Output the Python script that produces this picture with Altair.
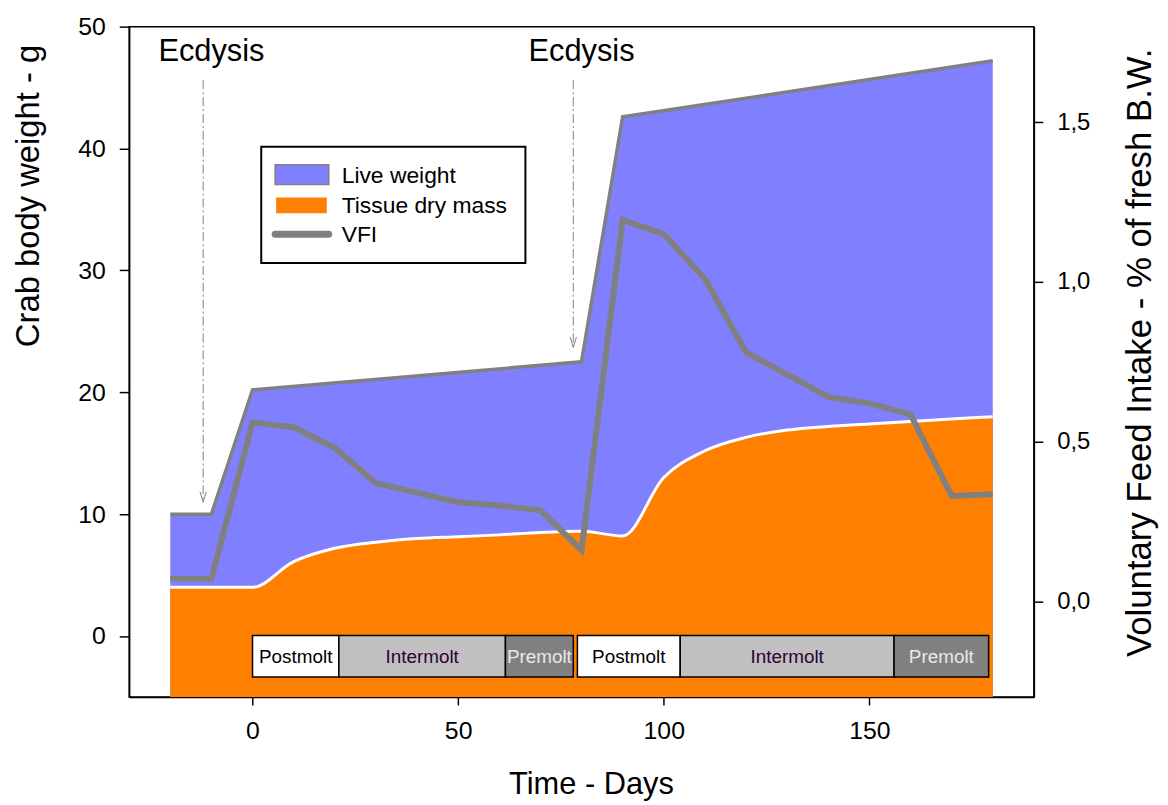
import altair as alt
import pandas as pd

FONT = "Liberation Sans, Arial, sans-serif"

# ---------------- data ----------------
# Live weight (g)
lw_day = [-20, -10, 0, 80, 90, 180]
lw_val = [10.0, 10.0, 20.2, 22.5, 42.6, 47.2]

# Tissue dry mass (g)
tdm_day = [-20, -10, 0, 10, 20, 30, 40, 50, 60, 70, 80, 90, 100, 110, 120, 130, 140, 150, 160, 170, 180]
tdm_val = [4.0, 4.0, 4.0, 6.1, 7.2, 7.7, 8.0, 8.15, 8.3, 8.5, 8.6, 8.2, 13.0, 15.2, 16.3, 16.9, 17.2, 17.4, 17.6, 17.8, 18.0]

# Voluntary feed intake (% of fresh body weight)
vfi_day = [-20, -10, 0, 10, 20, 30, 40, 50, 60, 70, 80, 90, 100, 110, 120, 130, 140, 150, 160, 170, 180]
vfi_val = [0.07, 0.07, 0.56, 0.545, 0.48, 0.37, 0.34, 0.31, 0.30, 0.285, 0.16, 1.195, 1.15, 1.01, 0.78, 0.71, 0.64, 0.62, 0.585, 0.33, 0.335]

# Moult phases
phase_names = ["Postmolt", "Intermolt", "Premolt", "Postmolt", "Intermolt", "Premolt"]
phase_start = [0, 21, 61.5, 79, 104, 156]
phase_end = [21, 61.5, 78, 104, 156, 179]

# Ecdysis annotations
ecd_day = [-12, 78]
ecd_top = [45.6, 45.6]
ecd_tip = [11.0, 23.7]
ecd_label_day = [-10, 80]
ecd_label_y = [47.2, 47.2]
ecd_label = ["Ecdysis", "Ecdysis"]

legend_labels = ["Live weight", "Tissue dry mass", "VFI"]

x_ticks = [0, 50, 100, 150]
y_ticks = [0, 10, 20, 30, 40, 50]
vfi_ticks = [0.0, 0.5, 1.0, 1.5]

X_DOMAIN = [-30, 190]
Y_DOMAIN = [-5, 50]
VFI_DOMAIN = [-0.3, 1.8]

W, H = 911, 675

BLUE = "#8080ff"
ORANGE = "#ff8000"
GRAY = "#808080"

# ---------------- frames ----------------
lw_df = pd.DataFrame({"day": lw_day, "g": lw_val})
tdm_df = pd.DataFrame({"day": tdm_day, "g": tdm_val})
vfi_df = pd.DataFrame({"day": vfi_day, "vfi": vfi_val})
ph_df = pd.DataFrame({"phase": phase_names, "start": phase_start, "end": phase_end})
ecd_df = pd.DataFrame({"day": ecd_day, "top": ecd_top, "tip": ecd_tip,
                       "lday": ecd_label_day, "ly": ecd_label_y, "label": ecd_label})
one = pd.DataFrame({"a": [0]})

xs = alt.Scale(domain=X_DOMAIN, nice=False, zero=False)
ys = alt.Scale(domain=Y_DOMAIN, nice=False, zero=False)
vs = alt.Scale(domain=VFI_DOMAIN, nice=False, zero=False)

x_axis = alt.Axis(values=x_ticks, title="Time - Days", format="d", grid=False,
                  labelFontSize=25, titleFontSize=31, tickSize=8, labelPadding=14,
                  titleX=465, titleY=97, titleBaseline="alphabetic", titleAlign="center")
y_axis = alt.Axis(values=y_ticks, title="Crab body weight - g", format="d", grid=False,
                  labelFontSize=25, titleFontSize=33, tickSize=10, labelPadding=14,
                  titleAngle=270, titleX=-101, titleY=170, titleAlign="center",
                  titleBaseline="middle")
v_axis = alt.Axis(values=vfi_ticks, orient="right", grid=False,
                  title="Voluntary Feed Intake - % of fresh B.W.",
                  labelExpr="replace(format(datum.value, '.1f'), '.', ',')",
                  labelFontSize=24, titleFontSize=35, tickSize=9, labelPadding=14,
                  titleAngle=270, titleX=106, titleY=328, titleAlign="center",
                  titleBaseline="middle")


def X(field):
    return alt.X(field, scale=xs, axis=x_axis)


def Y(field):
    return alt.Y(field, scale=ys, axis=y_axis)


blue_area = alt.Chart(lw_df).mark_area(color=BLUE, opacity=1).encode(
    x=X("day:Q"), y=Y("g:Q"), y2=alt.datum(Y_DOMAIN[0]),
)
blue_edge = alt.Chart(lw_df).mark_line(color=GRAY, strokeWidth=3.5).encode(
    x=X("day:Q"), y=Y("g:Q"),
)
orange_area = alt.Chart(tdm_df).mark_area(color=ORANGE, opacity=1, interpolate="monotone").encode(
    x=X("day:Q"), y=Y("g:Q"), y2=alt.datum(Y_DOMAIN[0]),
)
white_edge = alt.Chart(tdm_df).mark_line(color="white", strokeWidth=3, interpolate="monotone").encode(
    x=X("day:Q"), y=Y("g:Q"),
)

phase_fill = alt.Scale(domain=["Postmolt", "Intermolt", "Premolt"],
                       range=["#ffffff", "#c0c0c0", "#808080"])
phase_txt = alt.Scale(domain=["Postmolt", "Intermolt", "Premolt"],
                      range=["#000000", "#300030", "#e8e8e8"])
phase_rect = alt.Chart(ph_df).mark_rect(stroke="black", strokeWidth=1.5).encode(
    x=X("start:Q"),
    x2="end:Q",
    y=alt.value(613),
    y2=alt.value(655),
    fill=alt.Fill("phase:N", scale=phase_fill, legend=None),
)
phase_text = alt.Chart(ph_df).transform_calculate(mid="(datum.start + datum.end) / 2").mark_text(
    font=FONT, fontSize=19, baseline="middle", align="center").encode(
    x=X("mid:Q"),
    y=alt.value(635),
    text="phase:N",
    color=alt.Color("phase:N", scale=phase_txt, legend=None),
)

ecd_rule = alt.Chart(ecd_df).mark_rule(color=GRAY, strokeWidth=1, strokeDash=[9, 3, 2, 3]).encode(
    x=X("day:Q"), y=Y("top:Q"), y2="tip:Q",
)
ecd_head = alt.Chart(ecd_df).mark_point(shape="M-0.6,-1L0,1L0.6,-1", filled=False, color=GRAY,
                                        size=110, strokeWidth=1, yOffset=-5, opacity=1).encode(
    x=X("day:Q"), y=Y("tip:Q"),
)
ecd_text = alt.Chart(ecd_df).mark_text(font=FONT, fontSize=31, color="black",
                                       baseline="alphabetic", align="center").encode(
    x=X("lday:Q"), y=Y("ly:Q"), text="label:N",
)

# legend (drawn by hand, as in the reference)
leg_frame = alt.Chart(one).mark_rect(fill="white", stroke="black", strokeWidth=2).encode(
    x=alt.value(133), x2=alt.value(399), y=alt.value(121), y2=alt.value(238))
leg_blue = alt.Chart(one).mark_rect(fill=BLUE, stroke=GRAY, strokeWidth=1.5).encode(
    x=alt.value(147), x2=alt.value(201), y=alt.value(139), y2=alt.value(159))
leg_orange = alt.Chart(one).mark_rect(fill=ORANGE).encode(
    x=alt.value(148), x2=alt.value(199), y=alt.value(172), y2=alt.value(188))
leg_line = alt.Chart(one).mark_rule(color=GRAY, strokeWidth=7, strokeCap="round").encode(
    x=alt.value(147), x2=alt.value(201), y=alt.value(209))
leg_texts = [
    alt.Chart(one).mark_text(font=FONT, fontSize=23, align="left", baseline="middle", color="black").encode(
        x=alt.value(214), y=alt.value(yy), text=alt.value(lbl))
    for lbl, yy in zip(legend_labels, [150, 181, 210])
]

left = alt.layer(blue_area, blue_edge, orange_area, white_edge, phase_rect, phase_text,
                 ecd_rule, ecd_head, ecd_text, leg_frame, leg_blue, leg_orange, leg_line,
                 *leg_texts)

vfi_line = alt.Chart(vfi_df).mark_line(color=GRAY, strokeWidth=6, strokeJoin="miter").encode(
    x=X("day:Q"),
    y=alt.Y("vfi:Q", scale=vs, axis=v_axis),
)

chart = alt.layer(left, vfi_line).resolve_scale(y="independent").properties(
    width=W, height=H,
    padding={"left": 122, "top": 16, "right": 127, "bottom": 104},
    autosize=alt.AutoSizeParams(type="none"),
).configure_view(stroke="black", strokeWidth=1.5).configure_axis(
    domainColor="black", tickColor="black", labelColor="black", titleColor="black",
    labelFont=FONT, titleFont=FONT, titleFontWeight="normal",
    domainWidth=1.5, tickWidth=1.5, grid=False,
)

chart.save("out.html", embed_options={"renderer": "svg", "actions": False})
